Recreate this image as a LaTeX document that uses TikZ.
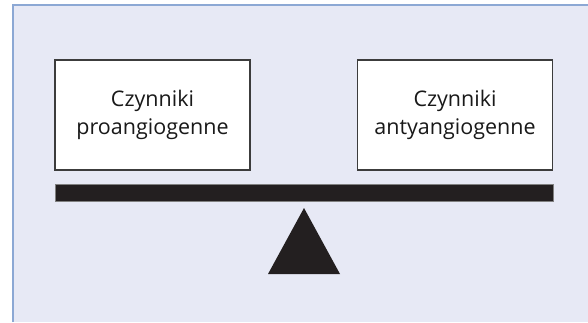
\documentclass[tikz,border=0pt]{standalone}
\usepackage{fontspec}
\setmainfont{Open Sans}
\usetikzlibrary{positioning}
\definecolor{panelbg}{HTML}{E7E9F5}
\definecolor{panelline}{HTML}{8CA8D4}
\definecolor{boxline}{HTML}{3C3C3C}
\definecolor{barfill}{HTML}{231F20}
\tikzset{
  factor/.style={draw=boxline,line width=1.2pt,fill=white,minimum width=195pt,minimum height=110pt,
    align=center,font=\fontsize{21.5}{28.5}\selectfont,text=black!90},
}
\begin{document}
\begin{tikzpicture}[x=1pt,y=-1pt]
\useasboundingbox (0,0) rectangle (588,322);
\fill[panelbg] (13,5) rectangle (588,322);
\draw[panelline,line width=2pt] (13,322) -- (13,5) -- (588,5);
\node[factor] (pro) at (152.5,115) {Czynniki\\proangiogenne};
\node[factor] (anty) at (455,115) {Czynniki\\antyangiogenne};
\node[fill=barfill,draw=gray,line width=0.6pt,minimum width=498pt,minimum height=17pt,inner sep=0pt] (bar) at (304,193) {};
\fill[barfill] (304,208) -- (340,274) -- (268,274) -- cycle;
\end{tikzpicture}
\end{document}
